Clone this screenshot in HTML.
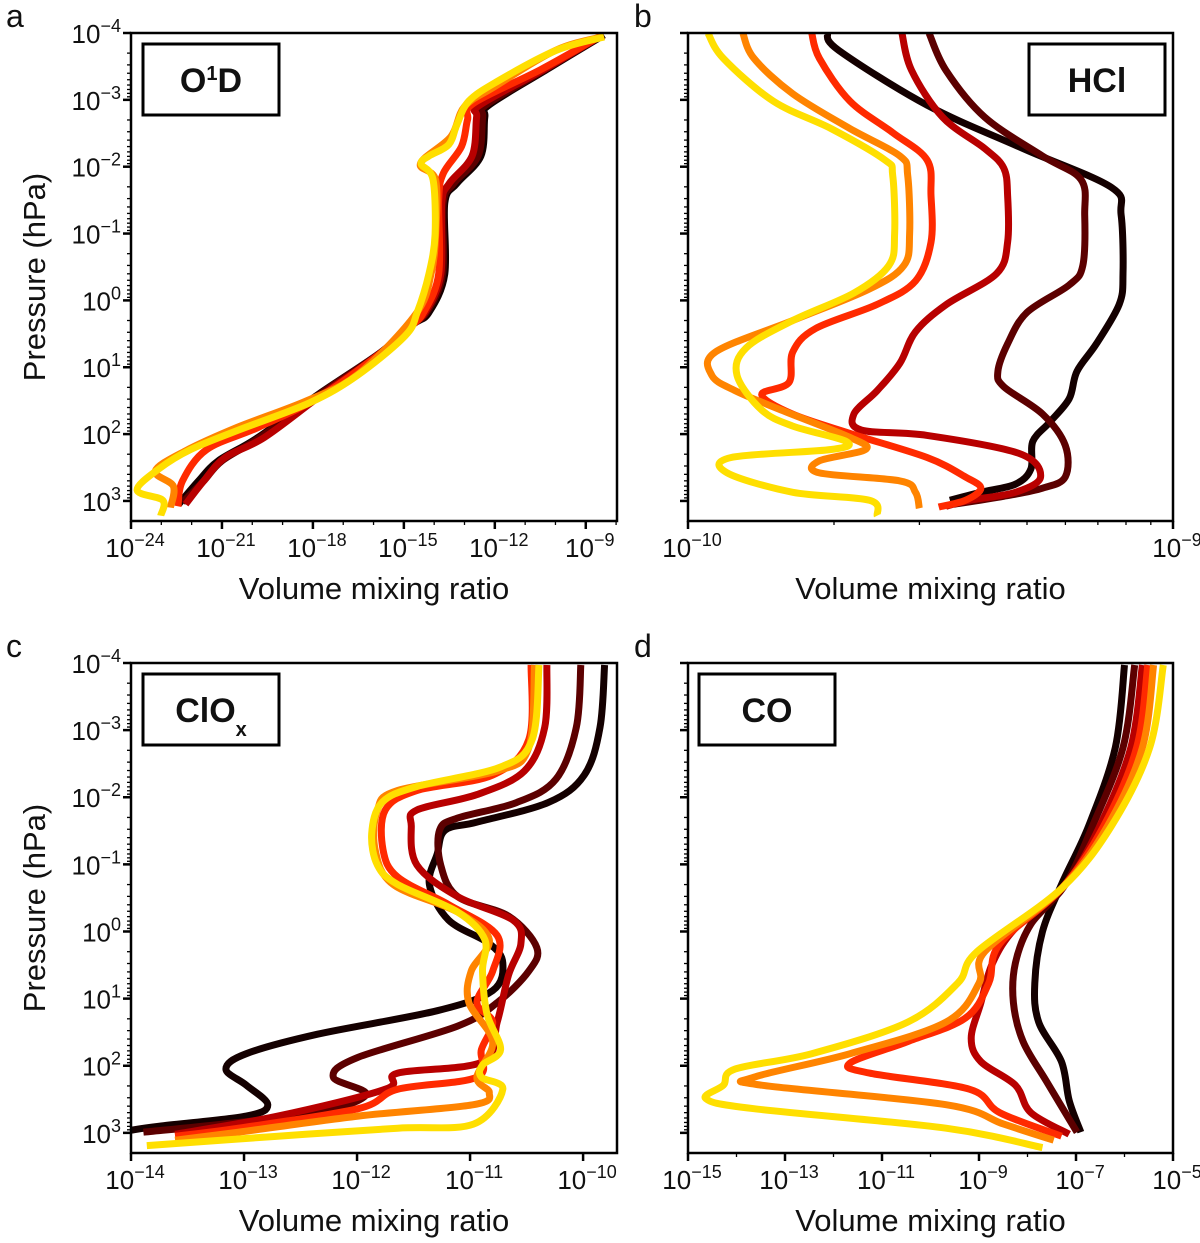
<!DOCTYPE html>
<html><head><meta charset="utf-8">
<style>
html,body{margin:0;padding:0;background:#fff;}
svg{display:block;font-family:"Liberation Sans",sans-serif;}
</style></head>
<body>
<svg id="fig" width="1200" height="1243" viewBox="0 0 1200 1243" xmlns="http://www.w3.org/2000/svg"></svg>
<script>
// ---- data (log10 VMR, log10 pressure hPa); series order: black, maroon, darkred, red, orange, yellow
const seriesNames = ['run-1','run-2','run-3','run-4','run-5','run-6'];
const seriesColors = ['#140000','#5c0000','#b80000','#ff2a00','#ff8400','#ffdf00'];

const o1dX = [
 [-8.40,-10.3,-12.20,-12.33,-12.46,-13.25,-13.65,-13.65,-14.17,-14.70,-15.74,-17.84,-19.81,-21.12,-21.77,-22.43],
 [-8.45,-10.35,-12.30,-12.40,-12.55,-13.35,-13.70,-13.72,-14.25,-14.75,-15.74,-17.80,-19.75,-21.0,-21.6,-22.3],
 [-8.45,-10.4,-12.5,-12.6,-12.75,-13.5,-13.75,-13.78,-14.3,-14.8,-15.7,-17.7,-19.6,-20.9,-21.6,-22.2],
 [-8.45,-10.5,-12.7,-12.9,-13.1,-13.7,-13.85,-13.85,-14.35,-14.8,-15.8,-17.8,-19.8,-21.5,-22.3,-22.45],
 [-8.4,-10.0,-12.0,-13.0,-13.45,-14.45,-13.95,-13.95,-14.1,-14.6,-16.5,-18.2,-20.5,-22.2,-23.2,-22.6,-22.7],
 [-8.40,-9.98,-11.94,-12.86,-13.25,-13.52,-14.17,-14.43,-14.04,-13.97,-14.17,-14.56,-14.96,-16.53,-18.10,-20.46,-22.03,-23.08,-23.80,-22.95,-23.02]
];
const o1dP = [
 [-3.97,-3.45,-2.92,-2.74,-2.16,-1.75,-1.46,-0.40,0.18,0.36,0.77,1.41,2.05,2.40,2.70,3.05],
 [-3.97,-3.45,-2.92,-2.74,-2.16,-1.75,-1.46,-0.40,0.18,0.36,0.77,1.41,2.05,2.40,2.70,3.02],
 [-3.97,-3.45,-2.92,-2.74,-2.16,-1.75,-1.46,-0.40,0.18,0.36,0.77,1.41,2.05,2.35,2.70,3.05],
 [-3.97,-3.45,-2.95,-2.7,-2.3,-1.9,-1.5,-0.4,0.18,0.4,0.8,1.45,1.9,2.23,2.7,3.08],
 [-3.95,-3.74,-3.2,-2.9,-2.45,-2.05,-1.8,-1.0,-0.4,0.2,1.1,1.5,1.9,2.25,2.55,2.78,3.1],
 [-3.94,-3.74,-3.27,-2.98,-2.63,-2.33,-2.16,-2.04,-1.81,-0.99,-0.40,0.18,0.53,1.12,1.53,1.94,2.23,2.52,2.84,2.99,3.22]
];

// HCl: log10 VMR
const hclX = [
 [-9.713,-9.689,-9.507,-9.309,-9.127,-9.107,-9.103,-9.111,-9.158,-9.198,-9.214,-9.254,-9.289,-9.293,-9.325,-9.396,-9.460],
 [-9.503,-9.468,-9.388,-9.269,-9.190,-9.182,-9.186,-9.214,-9.301,-9.341,-9.361,-9.349,-9.269,-9.222,-9.222,-9.269,-9.349,-9.452],
 [-9.559,-9.539,-9.475,-9.388,-9.349,-9.341,-9.341,-9.364,-9.467,-9.531,-9.563,-9.610,-9.658,-9.642,-9.507,-9.317,-9.273,-9.325,-9.420,-9.468],
 [-9.745,-9.729,-9.666,-9.578,-9.507,-9.499,-9.499,-9.531,-9.610,-9.737,-9.784,-9.792,-9.848,-9.785,-9.666,-9.507,-9.428,-9.396,-9.428,-9.483],
 [-9.887,-9.864,-9.784,-9.666,-9.563,-9.547,-9.543,-9.555,-9.626,-9.784,-9.943,-9.951,-9.903,-9.808,-9.666,-9.634,-9.729,-9.729,-9.563,-9.531,-9.523],
 [-9.959,-9.927,-9.824,-9.705,-9.594,-9.578,-9.574,-9.586,-9.658,-9.784,-9.880,-9.899,-9.848,-9.784,-9.674,-9.705,-9.911,-9.919,-9.784,-9.626,-9.610]
];
const hclP = [
 [-4,-3.74,-2.92,-2.27,-1.69,-1.28,-0.40,0.06,0.65,1.06,1.47,1.82,2.11,2.52,2.75,2.87,2.99],
 [-4,-3.44,-2.74,-2.16,-1.81,-1.28,-0.52,-0.23,0.18,0.65,1.06,1.29,1.70,2.17,2.64,2.81,2.93,3.05],
 [-4,-3.44,-2.74,-2.27,-1.98,-1.57,-0.87,-0.40,0.06,0.47,0.94,1.35,1.70,1.94,2.02,2.29,2.64,2.87,2.99,3.08],
 [-4,-3.62,-2.98,-2.51,-2.10,-1.57,-0.87,-0.29,0.06,0.42,0.77,1.23,1.41,1.70,1.99,2.35,2.64,2.81,2.99,3.09],
 [-4,-3.62,-3.09,-2.57,-2.16,-1.87,-0.99,-0.52,-0.17,0.30,0.77,1.12,1.35,1.64,2.05,2.23,2.40,2.58,2.70,2.87,3.11],
 [-4,-3.62,-2.98,-2.57,-2.10,-1.87,-0.99,-0.52,-0.11,0.30,0.71,1.12,1.64,1.88,2.11,2.23,2.35,2.58,2.87,2.99,3.22]
];

// ClOx
const cloxX = [
 [-9.81,-9.85,-9.99,-10.31,-10.94,-11.22,-11.29,-11.36,-11.19,-10.83,-10.71,-10.80,-11.29,-12.35,-12.98,-13.16,-12.98,-12.79,-12.98,-13.75,-14.0],
 [-10.02,-10.06,-10.24,-10.59,-11.11,-11.27,-11.26,-11.11,-10.66,-10.41,-10.48,-10.76,-11.11,-12.0,-12.21,-11.92,-12.35,-13.19,-13.89],
 [-10.32,-10.34,-10.52,-10.94,-11.47,-11.52,-11.47,-11.11,-10.62,-10.55,-10.66,-10.76,-10.89,-11.64,-11.75,-12.70,-13.61],
 [-10.46,-10.48,-10.80,-11.47,-11.75,-11.77,-11.64,-11.19,-10.76,-10.80,-10.94,-10.80,-10.90,-10.94,-11.64,-11.99,-13.05,-13.61],
 [-10.43,-10.48,-10.76,-11.64,-11.82,-11.84,-11.68,-11.11,-10.83,-10.99,-11.01,-10.80,-10.94,-10.83,-10.97,-11.99,-13.05,-13.61],
 [-10.39,-10.45,-10.73,-11.47,-11.78,-11.87,-11.82,-11.64,-11.11,-10.87,-10.89,-10.85,-10.73,-10.89,-10.90,-10.71,-10.97,-11.64,-12.70,-13.86]
];
const cloxP = [
 [-3.97,-3.04,-2.33,-1.92,-1.63,-1.51,-1.16,-0.70,-0.17,0.18,0.47,0.88,1.18,1.53,1.82,2.05,2.29,2.58,2.75,2.90,2.96],
 [-3.97,-3.04,-2.27,-1.92,-1.69,-1.51,-0.99,-0.52,-0.23,0.24,0.59,1.06,1.41,1.88,2.17,2.43,2.70,2.87,2.99],
 [-3.97,-3.04,-2.39,-2.04,-1.81,-1.57,-0.99,-0.52,-0.17,0.18,0.65,1.35,1.94,2.11,2.35,2.75,3.02],
 [-3.97,-2.86,-2.33,-2.10,-1.81,-1.22,-0.81,-0.40,0.06,0.59,1.06,1.35,1.76,2.17,2.35,2.64,2.93,3.05],
 [-3.97,-2.74,-2.39,-2.10,-1.81,-1.22,-0.70,-0.29,0.12,0.59,1.06,1.64,2.17,2.40,2.58,2.75,2.99,3.11],
 [-3.97,-2.86,-2.45,-2.16,-1.92,-1.46,-0.99,-0.70,-0.29,0.12,0.59,1.23,1.76,1.99,2.17,2.35,2.87,2.93,3.05,3.19]
];

// CO
const coX = [
 [-6.0,-6.19,-6.74,-7.30,-7.69,-7.85,-7.77,-7.30,-7.14,-6.90],
 [-5.79,-6.03,-6.66,-7.22,-7.93,-8.25,-8.29,-8.09,-7.61,-6.98],
 [-5.63,-5.87,-6.51,-7.22,-8.25,-8.72,-8.96,-9.16,-8.96,-8.25,-7.93,-7.14],
 [-5.52,-5.75,-6.43,-7.30,-8.57,-8.80,-9.28,-10.47,-11.66,-11.26,-9.20,-8.57,-7.30],
 [-5.40,-5.63,-6.35,-7.30,-8.88,-9.0,-9.68,-11.66,-13.64,-13.48,-9.68,-8.49,-7.46],
 [-5.20,-5.48,-6.27,-7.30,-9.04,-9.44,-10.47,-12.45,-14.03,-14.27,-14.63,-13.64,-9.68,-7.69]
];
const coP = [
 [-3.97,-2.74,-1.57,-0.70,0.0,0.77,1.35,1.94,2.52,2.99],
 [-3.97,-2.74,-1.57,-0.70,-0.11,0.47,1.06,1.64,2.23,2.99],
 [-3.97,-2.74,-1.57,-0.70,-0.05,0.47,1.06,1.59,1.94,2.29,2.70,3.02],
 [-3.97,-2.74,-1.57,-0.64,0.18,0.77,1.29,1.64,1.96,2.11,2.35,2.70,3.05],
 [-3.97,-2.74,-1.57,-0.64,0.30,0.77,1.35,1.82,2.17,2.29,2.58,2.87,3.11],
 [-3.97,-2.74,-1.57,-0.64,0.30,0.77,1.35,1.82,2.05,2.29,2.49,2.64,2.93,3.22]
];

const yTickExps = [-4,-3,-2,-1,0,1,2,3];
const xTicksA = [-24,-21,-18,-15,-12,-9];
const xTicksC = [-14,-13,-12,-11,-10];
const xTicksD = [-15,-13,-11,-9,-7,-5];

// ---- drawing
const NS='http://www.w3.org/2000/svg';
const svg=document.getElementById('fig');
function mk(tag,attrs,parent){const e=document.createElementNS(NS,tag);for(const k in attrs)e.setAttribute(k,attrs[k]);(parent||svg).appendChild(e);return e;}

const panels=[
 {id:'a',label:'O',sup:'1',rest:'D',l:131,r:617,t:33,b:521,xd:[-24,-7.97],xt:xTicksA,X:o1dX,P:o1dP,ylab:true,box:[143,44,136,71],lx:6},
 {id:'b',label:'HCl',l:688,r:1173,t:33,b:521,xd:[-10,-9],xt:[-10,-9],X:hclX,P:hclP,ylab:false,box:[1029,44,136,71],lin:true,lx:634},
 {id:'c',label:'ClO',sub:'x',l:131,r:617,t:663,b:1153,xd:[-14,-9.70],xt:xTicksC,X:cloxX,P:cloxP,ylab:true,box:[143,674,136,71],lx:6},
 {id:'d',label:'CO',l:688,r:1173,t:663,b:1153,xd:[-15,-5],xt:xTicksD,X:coX,P:coP,ylab:false,box:[699,674,136,71],lx:634}
];
const yd=[-4,3.3];

function sx(p,v){return p.l+(v-p.xd[0])/(p.xd[1]-p.xd[0])*(p.r-p.l);}
function sy(p,v){return p.t+(v-yd[0])/(yd[1]-yd[0])*(p.b-p.t);}

function smoothPath(pts){
 let d='M'+pts[0][0].toFixed(1)+','+pts[0][1].toFixed(1);
 for(let i=0;i<pts.length-1;i++){
  const p0=pts[Math.max(i-1,0)],p1=pts[i],p2=pts[i+1],p3=pts[Math.min(i+2,pts.length-1)];
  const c1=[p1[0]+(p2[0]-p0[0])/6,p1[1]+(p2[1]-p0[1])/6];
  const c2=[p2[0]-(p3[0]-p1[0])/6,p2[1]-(p3[1]-p1[1])/6];
  d+=' C'+c1[0].toFixed(1)+','+c1[1].toFixed(1)+' '+c2[0].toFixed(1)+','+c2[1].toFixed(1)+' '+p2[0].toFixed(1)+','+p2[1].toFixed(1);
 }
 return d;
}

function powLabel(g,x,y,exp,anchor){
 const t=mk('text',{x:x,y:y,'font-size':26,'text-anchor':anchor,fill:'#111'},g);
 t.appendChild(document.createTextNode('10'));
 const s=mk('tspan',{dy:-11,'font-size':18},t);
 s.textContent=(exp<0?'\u2212':'')+Math.abs(exp);
 return t;
}

panels.forEach(p=>{
 const g=mk('g',{});
 
 
 const clipId='clip-'+p.id;
 const cp=mk('clipPath',{id:clipId},g);mk('rect',{x:p.l,y:p.t,width:p.r-p.l,height:p.b-p.t},cp);
 const sg=mk('g',{'clip-path':'url(#'+clipId+')'},g);
 p.X.forEach((xs,i)=>{
  const pts=xs.map((v,j)=>[sx(p,v),sy(p,p.P[i][j])]);
  const path=mk('path',{d:smoothPath(pts),fill:'none',stroke:seriesColors[i],'stroke-width':7,'stroke-linejoin':'round','stroke-linecap':'butt'},sg);
  
  
 });
 const fr=mk('rect',{x:p.l,y:p.t,width:p.r-p.l,height:p.b-p.t,fill:'none',stroke:'#000','stroke-width':2.5},g);
 
 
 const yg=mk('g',{},g);
 
 
 for(let e=-4;e<=3;e++){
  const y=sy(p,e);
  mk('line',{x1:p.l-8,x2:p.l,y1:y,y2:y,stroke:'#000','stroke-width':2.5},yg);
  if(p.ylab) powLabel(yg,p.l-10,y+10,e,'end');
  for(let k=2;k<=9;k++){const v=e+Math.log10(k);if(v>yd[1])break;const yy=sy(p,v);mk('line',{x1:p.l-4,x2:p.l,y1:yy,y2:yy,stroke:'#000','stroke-width':1.3},yg);}
 }
 const xg=mk('g',{},g);
 
 
 if(p.lin){
  p.xt.forEach(e=>{const x=sx(p,e);mk('line',{x1:x,x2:x,y1:p.b,y2:p.b+8,stroke:'#000','stroke-width':2.5},xg);powLabel(xg,x+4,p.b+36,e,'middle');});
  for(let k=2;k<=9;k++){const x=sx(p,-10+Math.log10(k));mk('line',{x1:x,x2:x,y1:p.b,y2:p.b+4,stroke:'#000','stroke-width':1.3},xg);}
 } else {
  for(let e=Math.ceil(p.xd[0]);e<=p.xd[1];e++){
   const x=sx(p,e);
   const major=p.xt.indexOf(e)>=0;
   mk('line',{x1:x,x2:x,y1:p.b,y2:p.b+(major?8:4),stroke:'#000','stroke-width':major?2.5:1.3},xg);
   if(major) powLabel(xg,x+4,p.b+36,e,'middle');
  }
 }
 const xt=mk('text',{x:(p.l+p.r)/2,y:p.b+78,'font-size':31,'text-anchor':'middle',fill:'#111'},g);
 xt.textContent='Volume mixing ratio';
 
 
 if(p.ylab){
  const cy=(p.t+p.b)/2;
  const yt=mk('text',{x:0,y:0,'font-size':31,'text-anchor':'middle',fill:'#111',transform:'translate(45,'+cy+') rotate(-90)'},g);
  yt.textContent='Pressure (hPa)';
  
  
 }
 const pl=mk('text',{x:p.lx,y:p.t-6,'font-size':32,fill:'#111'},g);
 pl.textContent=p.id;
 
 
 const bg=mk('g',{},g);
 
 
 mk('rect',{x:p.box[0],y:p.box[1],width:p.box[2],height:p.box[3],fill:'#fff',stroke:'#000','stroke-width':3},bg);
 const lt=mk('text',{x:p.box[0]+p.box[2]/2,y:p.box[1]+48,'font-size':34,'font-weight':'bold','text-anchor':'middle',fill:'#111'},bg);
 lt.appendChild(document.createTextNode(p.label));
 if(p.sup){const s=mk('tspan',{dy:-12,'font-size':20},lt);s.textContent=p.sup;const r=mk('tspan',{dy:12},lt);r.textContent=p.rest;}
 if(p.sub){const s=mk('tspan',{dy:14,'font-size':20},lt);s.textContent=p.sub;}
});
</script>
</body></html>
